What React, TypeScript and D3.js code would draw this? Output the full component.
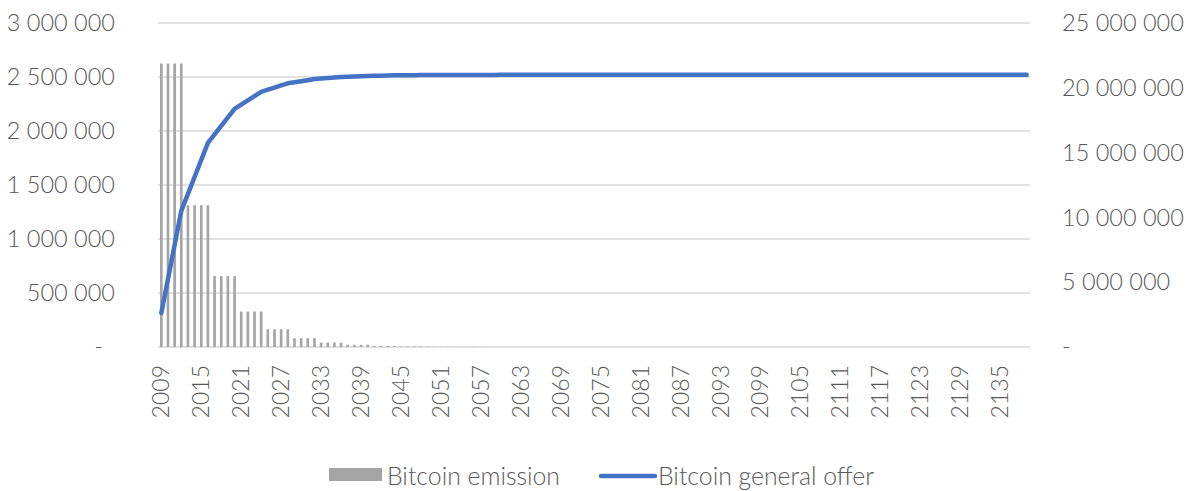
import React from "react";
import * as d3 from "d3";

const years = d3.range(2009, 2140);

// yearly issuance, one row per 4-year halving era
const emission = [
  2625000, 2625000, 2625000, 2625000,
  1312500, 1312500, 1312500, 1312500,
  656250, 656250, 656250, 656250,
  328125, 328125, 328125, 328125,
  164063, 164063, 164063, 164063,
  82031, 82031, 82031, 82031,
  41016, 41016, 41016, 41016,
  20508, 20508, 20508, 20508,
  10254, 10254, 10254, 10254,
  5127, 5127, 5127, 5127,
  2563, 2563, 2563, 2563,
  1282, 1282, 1282, 1282,
  641, 641, 641, 641,
  320, 320, 320, 320,
  160, 160, 160, 160,
  80, 80, 80, 80,
  40, 40, 40, 40,
  20, 20, 20, 20,
  10, 10, 10, 10,
  5, 5, 5, 5,
  2.5, 2.5, 2.5, 2.5,
  1.25, 1.25, 1.25, 1.25,
  0.6, 0.6, 0.6, 0.6,
  0.3, 0.3, 0.3, 0.3,
  0.15, 0.15, 0.15, 0.15,
  0.08, 0.08, 0.08, 0.08,
  0.04, 0.04, 0.04, 0.04,
  0.02, 0.02, 0.02, 0.02,
  0.01, 0.01, 0.01, 0.01,
  0.005, 0.005, 0.005, 0.005,
  0.002, 0.002, 0.002, 0.002,
  0.001, 0.001, 0.001, 0.001,
  0.0005, 0.0005, 0.0005,
];

// total supply at year end
const offer = [
  2625000, 5250000, 7875000, 10500000,
  11812500, 13125000, 14437500, 15750000,
  16406250, 17062500, 17718750, 18375000,
  18703125, 19031250, 19359375, 19687500,
  19851563, 20015625, 20179688, 20343750,
  20425781, 20507813, 20589844, 20671875,
  20712891, 20753906, 20794922, 20835938,
  20856445, 20876953, 20897461, 20917969,
  20928223, 20938477, 20948730, 20958984,
  20964111, 20969238, 20974365, 20979492,
  20982056, 20984619, 20987183, 20989746,
  20991028, 20992310, 20993591, 20994873,
  20995514, 20996155, 20996796, 20997437,
  20997757, 20998077, 20998397, 20998718,
  20998878, 20999038, 20999198, 20999358,
  20999438, 20999518, 20999598, 20999678,
  20999718, 20999758, 20999798, 20999838,
  20999858, 20999878, 20999898, 20999918,
  20999928, 20999938, 20999948, 20999958,
  20999963, 20999968, 20999973, 20999978,
  20999980, 20999983, 20999985, 20999988,
  20999989, 20999990, 20999991, 20999993,
  20999993, 20999994, 20999994, 20999995,
  20999995, 20999996, 20999996, 20999996,
  20999996, 20999997, 20999997, 20999997,
  20999997, 20999997, 20999997, 20999997,
  20999997, 20999997, 20999997, 20999998,
  20999998, 20999998, 20999998, 20999998,
  20999998, 20999998, 20999998, 20999998,
  20999998, 20999998, 20999998, 20999998,
  20999998, 20999998, 20999998, 20999998,
  20999998, 20999998, 20999998, 20999998,
  20999998, 20999998, 20999998,
];

const tickYears = [2009, 2015, 2021, 2027, 2033, 2039, 2045, 2051, 2057, 2063, 2069, 2075, 2081, 2087, 2093, 2099, 2105, 2111, 2117, 2123, 2129, 2135];
const leftTicks = [0, 500000, 1000000, 1500000, 2000000, 2500000, 3000000];
const rightTicks = [0, 5000000, 10000000, 15000000, 20000000, 25000000];

const W = 1188;
const H = 491;
const PL = 158;
const PR = 1030;
const PT = 23;
const PB = 347;
const FONT = "Lato, 'Open Sans', sans-serif";
const TXT = "#595959";
const GRID = "#d9d9d9";
const BAR = "#a5a5a5";
const LINE = "#4472c4";

const fmt = (v: number) => (v === 0 ? "-" : d3.format(",")(v).replace(/,/g, " "));

export default function App() {
  const x = d3.scaleBand<number>().domain(years).range([PL, PR]).paddingInner(0.6).paddingOuter(0.3);
  const cx = (yr: number) => (x(yr) as number) + x.bandwidth() / 2;
  const yL = d3.scaleLinear().domain([0, 3000000]).range([PB, PT]);
  const yR = d3.scaleLinear().domain([0, 25000000]).range([PB, PT]);

  const line = d3.line<number>()
    .x((_, i) => cx(years[i]))
    .y((d) => yR(d));

  return (
    <svg width={W} height={H} style={{ position: "absolute", left: 0, top: 0, background: "#fff" }}
      fontFamily={FONT} fontWeight={300}>
      {leftTicks.map((t) => (
        <line key={"g" + t} x1={PL} x2={PR} y1={yL(t)} y2={yL(t)} stroke={GRID} strokeWidth={1.5} />
      ))}
      {years.map((yr, i) => (
        <rect key={yr} x={x(yr)} y={yL(emission[i])} width={x.bandwidth()}
          height={PB - yL(emission[i])} fill={BAR} />
      ))}
      <path d={line(offer) || ""} fill="none" stroke={LINE} strokeWidth={4.5}
        strokeLinejoin="round" strokeLinecap="round" />

      {leftTicks.map((t) => (
        <text key={"l" + t} x={t === 0 ? 103 : 115} y={yL(t)} dy="0.35em" textAnchor="end"
          fontSize={23.5} fill={TXT}>{fmt(t)}</text>
      ))}
      {rightTicks.map((t) => (
        <text key={"r" + t} x={1062} y={yR(t)} dy="0.35em" textAnchor="start"
          fontSize={23.5} fill={TXT}>{fmt(t)}</text>
      ))}
      {tickYears.map((yr) => (
        <text key={"x" + yr} transform={`translate(${cx(yr)},${PB + 18}) rotate(-90)`}
          dy="0.35em" textAnchor="end" fontSize={23} fill={TXT}>{yr}</text>
      ))}

      <rect x={329} y={468} width={53} height={13} fill={BAR} />
      <text x={387} y={476} dy="0.35em" fontSize={24.8} fill={TXT}>Bitcoin emission</text>
      <line x1={601} x2={655} y1={476} y2={476} stroke={LINE} strokeWidth={4.5} strokeLinecap="round" />
      <text x={658} y={476} dy="0.35em" fontSize={24.8} fill={TXT}>Bitcoin general offer</text>
    </svg>
  );
}
